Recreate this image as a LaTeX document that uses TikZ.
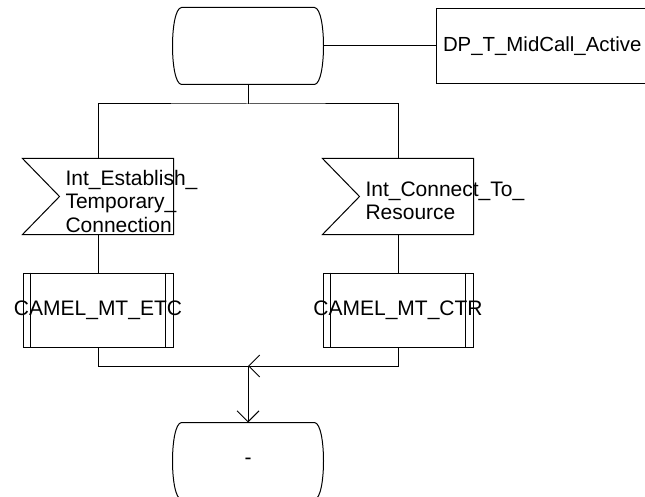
\documentclass[tikz,border=0pt]{standalone}
\usepackage{fontspec}
\setmainfont{Liberation Sans}
\usetikzlibrary{arrows.meta}
\begin{document}
\begin{tikzpicture}[x=1pt,y=-1pt, line width=1pt,
  every node/.style={font=\fontsize{21}{23.5}\selectfont},
  box/.style={draw=none, inner sep=0, minimum width=150pt, minimum height=75pt},
  statebox/.style={box, minimum height=76pt},
  procbox/.style={draw, inner sep=0, minimum width=150pt, minimum height=74pt},
  tip/.style={-{Straight Barb[length=11pt,width=22pt,line width=1pt]}}
]
\useasboundingbox (0,0) rectangle (645,497);
\fill[white] (0,0) rectangle (645,497);
\clip (0,0) rectangle (645,497);

\node[statebox] (s1) at (248,46) {};
\node[draw, inner xsep=7pt, inner ysep=0, text width=210pt, minimum height=75pt, align=left, font=\fontsize{20.4}{23}\selectfont] (dp) at (548,46.5) {DP\_T\_MidCall\_Active};

\node[box] (in1) at (98,196.5) {};
\node[anchor=west, align=left, inner sep=0] (t1) at (65,201) {Int\_Establish\_\\Temporary\_\\Connection};
\node[box] (in2) at (398,196.5) {};
\node[anchor=west, align=left, inner sep=0] (t2) at (365,201) {Int\_Connect\_To\_\\Resource};

\node[procbox] (p1) at (98,310) {\makebox[0pt]{CAMEL\_MT\_ETC}};
\node[procbox] (p2) at (398,310) {\makebox[0pt]{CAMEL\_MT\_CTR}};

\node[statebox] (s2) at (248,461) {-};

\foreach \s in {s1,s2}{
  \draw ([xshift=9pt]\s.north west) -- ([xshift=-9pt]\s.north east)
    .. controls ([xshift=3pt,yshift=-1pt]\s.north east) and ([xshift=3pt,yshift=1pt]\s.south east) .. ([xshift=-9pt]\s.south east)
    -- ([xshift=9pt]\s.south west)
    .. controls ([xshift=-3pt,yshift=1pt]\s.south west) and ([xshift=-3pt,yshift=-1pt]\s.north west) .. cycle;
}
\foreach \s in {in1,in2}{
  \draw (\s.north west) -- (\s.north east) -- (\s.south east) -- (\s.south west) -- ([xshift=37pt]\s.west) -- cycle;
}
\foreach \s in {p1,p2}{
  \draw ([xshift=8pt]\s.north west) -- ([xshift=8pt]\s.south west);
  \draw ([xshift=-8pt]\s.north east) -- ([xshift=-8pt]\s.south east);
}

\coordinate (bar) at (248,104);
\coordinate (m) at (248,366);
\draw (s1.south) -- (bar);
\draw (in1.north) |- (bar) -| (in2.north);
\draw (s1.east) -- (s1.east -| dp.west);
\draw (in1.south) -- (p1.north);
\draw (in2.south) -- (p2.north);
\draw (p1.south) |- (m);
\draw[tip] (p2.south) |- (m);
\draw[tip] (m) -- (s2.north);
\end{tikzpicture}
\end{document}
